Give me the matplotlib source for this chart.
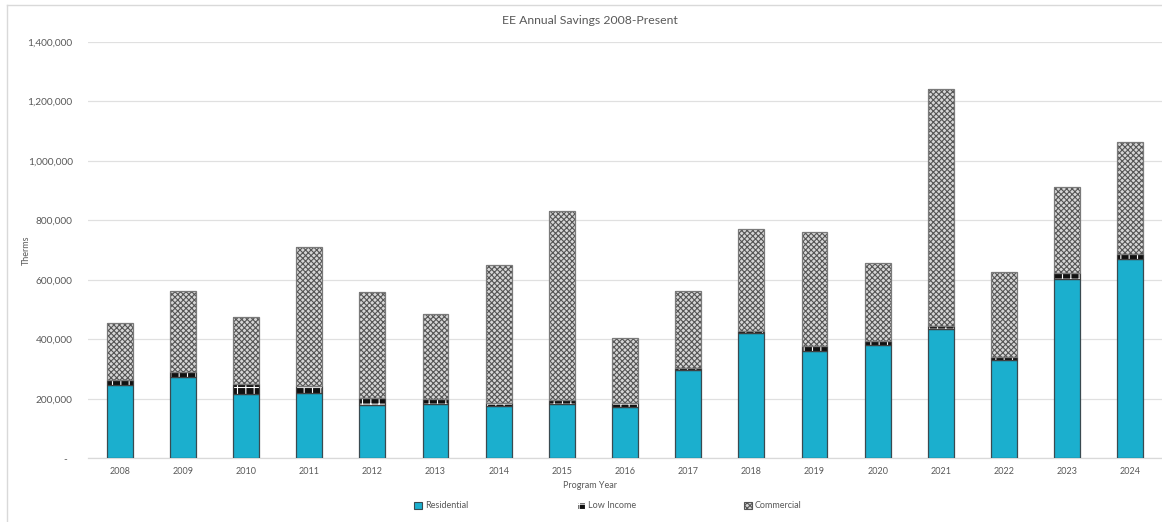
import matplotlib.pyplot as plt
import matplotlib.ticker as mticker
from matplotlib.lines import Line2D
from matplotlib.patches import Patch
import numpy as np

plt.rcParams['font.family'] = ['Lato', 'DejaVu Sans']
plt.rcParams['hatch.linewidth'] = 0.8

# values (therms)
years = ['2008', '2009', '2010', '2011', '2012', '2013', '2014', '2015', '2016',
         '2017', '2018', '2019', '2020', '2021', '2022', '2023', '2024']
residential = [247000, 273000, 216000, 219000, 178000, 183000, 176000, 182000, 172000,
               297000, 421000, 362000, 381000, 435000, 331000, 604000, 671000]
low_income = [17000, 17000, 33000, 25000, 25000, 16000, 9000, 13000, 13000,
              7000, 7000, 15000, 12000, 10000, 8000, 19000, 16000]
commercial = [191000, 273000, 225000, 467000, 357000, 287000, 465000, 637000, 220000,
              259000, 343000, 384000, 264000, 798000, 288000, 289000, 376000]

text_col = '#595959'
res_col = '#1bafce'
com_face = '#d6d6d6'
com_hatch = '#555555'

fig = plt.figure(figsize=(11.62, 5.22), dpi=100)
ax = fig.add_axes([88 / 1162, 1 - 458.3 / 522, 1 - 88 / 1162, (458.3 - 42) / 522])

x = np.arange(len(years))
w = 0.41
res = np.array(residential)
li = np.array(low_income)
com = np.array(commercial)

# fills (hatch colour comes from edgecolor), then outlines on top
ax.bar(x, res, w, color=res_col, edgecolor='#3a4a50', linewidth=0.9, zorder=3)
ax.bar(x, li, w, bottom=res, color='#111111', edgecolor='white', hatch='++',
       linewidth=0, zorder=3)
ax.bar(x, li, w, bottom=res, fill=False, edgecolor='#404040', linewidth=0.9, zorder=4)
ax.bar(x, com, w, bottom=res + li, color=com_face, edgecolor=com_hatch, hatch='xxxxxx',
       linewidth=0, zorder=3)
ax.bar(x, com, w, bottom=res + li, fill=False, edgecolor='#7a7a7a', linewidth=0.9, zorder=4)

ax.set_xlim(-0.5, len(years) - 0.5)
ax.set_ylim(0, 1400000)
ax.set_yticks(np.arange(0, 1400001, 200000))
ax.yaxis.set_major_formatter(mticker.FuncFormatter(
    lambda v, p: '-  ' if v == 0 else f'{int(v):,}'))
ax.set_xticks(x)
ax.set_xticklabels(years)
ax.tick_params(axis='y', length=0, pad=11, labelsize=7.3, labelcolor=text_col)
ax.tick_params(axis='x', length=0, pad=6, labelsize=6.5, labelcolor=text_col)
ax.grid(axis='y', color='#e0e0e0', linewidth=0.9, zorder=0)
ax.set_axisbelow(True)
for s in ['top', 'right', 'left']:
    ax.spines[s].set_visible(False)
ax.spines['bottom'].set_color('#d9d9d9')
ax.spines['bottom'].set_linewidth(0.9)

fig.text(590 / 1162, 1 - 20 / 522, 'EE Annual Savings 2008-Present', ha='center',
         va='center', fontsize=8.8, color=text_col)
fig.text(590 / 1162, 1 - 485 / 522, 'Program Year', ha='center', va='center',
         fontsize=6.5, color=text_col)
fig.text(26 / 1162, 1 - 250 / 522, 'Therms', ha='center', va='center', rotation=90,
         fontsize=6.5, color=text_col)

handles = [Patch(facecolor=res_col, edgecolor='#3a4a50', linewidth=0.8),
           Patch(facecolor='#111111', edgecolor='white', hatch='++', linewidth=0.8),
           Patch(facecolor=com_face, edgecolor=com_hatch, hatch='xxxxxx', linewidth=0.8)]
leg = fig.legend(handles, ['Residential', 'Low Income', 'Commercial'], ncol=3,
                 loc='center', bbox_to_anchor=(608 / 1162, 1 - 506 / 522),
                 frameon=False, fontsize=6.5, handlelength=0.9, handleheight=0.9,
                 handletextpad=0.3, columnspacing=12)
for t in leg.get_texts():
    t.set_color(text_col)

# outer chart border (left and top visible)
fig.add_artist(Line2D([7 / 1162, 7 / 1162], [0, 1 - 5 / 522], transform=fig.transFigure,
                      color='#d9d9d9', linewidth=1))
fig.add_artist(Line2D([7 / 1162, 1], [1 - 5 / 522, 1 - 5 / 522], transform=fig.transFigure,
                      color='#d9d9d9', linewidth=1))

fig.savefig('out.png', dpi=100)
